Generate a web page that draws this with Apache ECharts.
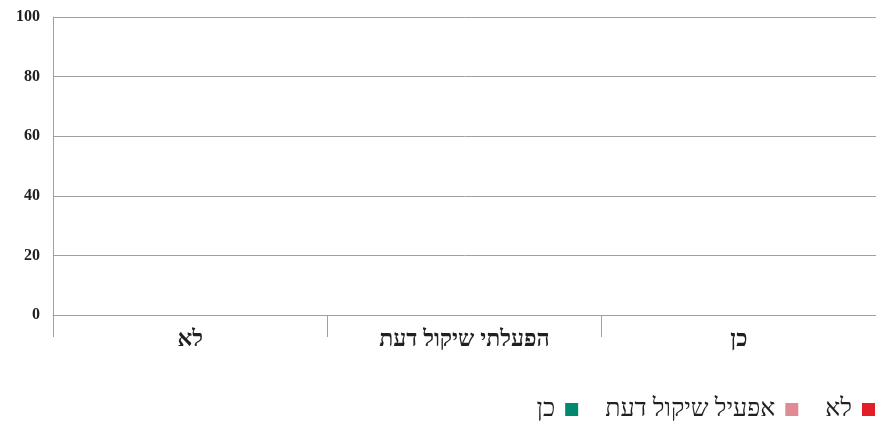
<!DOCTYPE html>
<html><head><meta charset="utf-8">
<script src="https://cdn.jsdelivr.net/npm/echarts@6/dist/echarts.min.js"></script>
<style>html,body{margin:0;padding:0;background:#fff}#c{width:876px;height:422px}</style>
</head><body><div id="c"></div>
<script>
const categories = ['לא', 'הפעלתי שיקול דעת', 'כן'];
const seriesNames = ['לא', 'אפעיל שיקול דעת', 'כן'];
const seriesColors = ['#e31e26', '#e08a93', '#00896f'];
const valuesNo = [0, 0, 0];
const valuesDiscretion = [0, 0, 0];
const valuesYes = [0, 0, 0];
const yTicks = [0, 20, 40, 60, 80, 100];

const seriesValues = [valuesNo, valuesDiscretion, valuesYes];
const font = "'Liberation Serif', 'Times New Roman', serif";
const chart = echarts.init(document.getElementById('c'), null, {renderer: 'canvas'});
chart.setOption({
  animation: false,
  backgroundColor: '#fff',
  grid: {left: 53, right: 0, top: 17, bottom: 107, containLabel: false},
  legend: {
    data: seriesNames.slice().reverse(),
    right: 1, top: 397, padding: 0,
    align: 'right',
    itemWidth: 13, itemHeight: 13, itemGap: 27,
    icon: 'rect',
    textStyle: {fontFamily: font, fontSize: 25, color: '#231f20', padding: [0, 5, 0, 5]}
  },
  xAxis: {
    type: 'category',
    data: categories,
    axisLine: {show: true, lineStyle: {color: '#a0a0a0', width: 1}},
    axisTick: {show: true, length: 22, lineStyle: {color: '#a0a0a0'}},
    axisLabel: {fontFamily: font, fontSize: 23, fontWeight: 'bold', color: '#231f20', margin: 14}
  },
  yAxis: {
    type: 'value', min: yTicks[0], max: yTicks[yTicks.length - 1], interval: 20,
    axisLine: {show: true, lineStyle: {color: '#a0a0a0', width: 1}},
    axisTick: {show: false},
    splitLine: {show: true, lineStyle: {color: '#a0a0a0', width: 1}},
    axisLabel: {fontFamily: font, fontSize: 16, fontWeight: 'bold', color: '#231f20', margin: 13}
  },
  series: seriesNames.map((n, i) => ({
    name: n, type: 'bar', data: seriesValues[i],
    itemStyle: {color: seriesColors[i]}
  }))
});
</script></body></html>
